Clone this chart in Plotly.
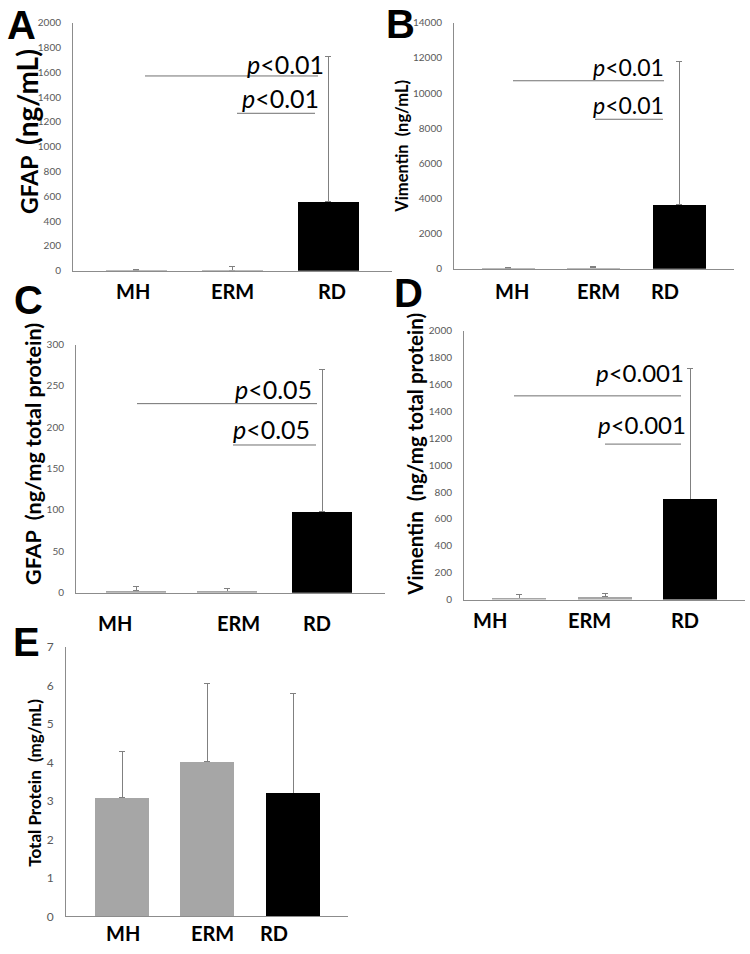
import plotly.graph_objects as go

# ---------------- data ----------------
categories = ["MH", "ERM", "RD"]

gfap_mean = [5, 5, 560]
gfap_sd = [5, 27, 1170]
gfap_sig = [1571, 1270]
gfap_p = ["0.01", "0.01"]

vim_mean = [20, 50, 3640]
vim_sd = [75, 80, 8160]
vim_sig = [10700, 8510]
vim_p = ["0.01", "0.01"]

gfap_tp_mean = [3, 2, 98]
gfap_tp_sd = [4, 2.5, 172]
gfap_tp_sig = [228.6, 178.6]
gfap_tp_p = ["0.05", "0.05"]

vim_tp_mean = [10, 20, 747]
vim_tp_sd = [25, 25, 975]
vim_tp_sig = [1516, 1157]
vim_tp_p = ["0.001", "0.001"]

tp_mean = [3.09, 4.01, 3.20]
tp_sd = [1.18, 2.03, 2.60]

bar_colors = ["#a6a6a6", "#a6a6a6", "#000000"]

W, H = 750, 954
FONT = "Lato"

def fx(px):
    return px / W

def fy(py):
    return 1 - py / H

# ---------------- layout of the panels (pixels) ----------------
panels = [
    dict(letter="A", letter_xy=(21, 17), mean=gfap_mean, sd=gfap_sd, ymax=2000, dtick=200,
         box=(73, 392, 15, 267), centers=[136, 232, 328], bw=61,
         lab_x=[133, 232, 332], lab_off=21,
         title="GFAP  <span style='font-size:28px'>(ng/mL)</span>", title_size=23, title_xy=(27, 126),
         sig=gfap_sig, p=gfap_p, sig_x=[(145, 318), (237, 315)],
         p_xy=[(326, 57), (321, 91)], p_size=25, tick_size=10),
    dict(letter="B", letter_xy=(400, 16), mean=vim_mean, sd=vim_sd, ymax=14000, dtick=2000,
         box=(454, 734, 15, 265), centers=[508, 593, 679], bw=53,
         lab_x=[512, 598, 665], lab_off=23,
         title="Vimentin  (ng/mL)", title_size=16.5, title_xy=(402, 141),
         sig=vim_sig, p=vim_p, sig_x=[(513, 664), (595, 663)],
         p_xy=[(666, 60), (666, 99)], p_size=23, tick_size=10),
    dict(letter="C", letter_xy=(28, 297), mean=gfap_tp_mean, sd=gfap_tp_sd, ymax=300, dtick=50,
         box=(76, 385, 342, 594), centers=[136, 227, 322], bw=60,
         lab_x=[115, 238, 317], lab_off=31,
         title="GFAP  (ng/mg total protein)", title_size=21.5, title_xy=(33, 453),
         sig=gfap_tp_sig, p=gfap_tp_p, sig_x=[(137, 317), (233, 316)],
         p_xy=[(314, 387), (312, 428)], p_size=25, tick_size=10),
    dict(letter="D", letter_xy=(408, 290), mean=vim_tp_mean, sd=vim_tp_sd, ymax=2000, dtick=200,
         box=(464, 745, 328, 601), centers=[519, 605, 690], bw=54,
         lab_x=[490, 589, 685], lab_off=21,
         title="Vimentin  (ng/mg total protein)", title_size=20.5, title_xy=(415, 454),
         sig=vim_tp_sig, p=vim_tp_p, sig_x=[(514, 681), (605, 681)],
         p_xy=[(686, 370), (688, 423)], p_size=24, tick_size=10),
    dict(letter="E", letter_xy=(26, 644), mean=tp_mean, sd=tp_sd, ymax=7, dtick=1,
         box=(66, 348, 649, 923), centers=[122, 207, 293], bw=54,
         lab_x=[123, 212, 274], lab_off=17,
         title="Total Protein  (mg/mL)", title_size=17, title_xy=(35, 787),
         sig=None, p=None, sig_x=None, p_xy=None, p_size=24, tick_size=12),
]

fig = go.Figure()
annotations = []
shapes = []
axis_color = "#8c8c8c"

for i, P in enumerate(panels, start=1):
    x0, x1, ytop, yzero = P["box"]
    xa = "x" if i == 1 else f"x{i}"
    ya = "y" if i == 1 else f"y{i}"
    xs = [c - x0 for c in P["centers"]]
    # transparent bars carrying the (upper) error bars, drawn first
    fig.add_trace(go.Bar(
        x=xs, y=P["mean"], width=P["bw"],
        marker=dict(color="rgba(0,0,0,0)", line=dict(width=0)),
        error_y=dict(type="data", array=P["sd"], arrayminus=[0, 0, 0], symmetric=False,
                     color="#808080", thickness=1, width=3),
        xaxis=xa, yaxis=ya, showlegend=False, hoverinfo="skip",
    ))
    # visible bars on top (hide the lower cap)
    fig.add_trace(go.Bar(
        x=xs, y=P["mean"], width=P["bw"],
        marker=dict(color=bar_colors, line=dict(width=0)),
        xaxis=xa, yaxis=ya, showlegend=False, hoverinfo="skip",
    ))
    xkey = "xaxis" if i == 1 else f"xaxis{i}"
    ykey = "yaxis" if i == 1 else f"yaxis{i}"
    fig.update_layout(**{
        xkey: dict(domain=[fx(x0), fx(x1)], range=[0, x1 - x0], anchor=ya,
                   showline=True, linecolor=axis_color, linewidth=1, showgrid=False,
                   zeroline=False, ticks="", showticklabels=False, fixedrange=True),
        ykey: dict(domain=[fy(yzero), fy(ytop)], range=[0, P["ymax"]], anchor=xa,
                   dtick=P["dtick"], tick0=0, tickformat="d", showline=True, linecolor=axis_color,
                   linewidth=1, showgrid=False, zeroline=False, ticks="",
                   ticklabelstandoff=9,
                   tickfont=dict(family=FONT, size=P["tick_size"], color="#595959"),
                   fixedrange=True),
    })
    for lx, cat in zip(P["lab_x"], categories):
        annotations.append(dict(x=fx(lx), y=fy(yzero + P["lab_off"]), xref="paper", yref="paper",
                                text=cat, showarrow=False, xanchor="center", yanchor="middle",
                                font=dict(family=FONT, size=20, color="#000000", weight="bold")))
    lx_, ly_ = P["letter_xy"]
    annotations.append(dict(x=fx(lx_), y=fy(ly_), xref="paper", yref="paper", text=P["letter"],
                            showarrow=False, xanchor="center", yanchor="middle",
                            font=dict(family="Liberation Sans", size=40, color="#000000", weight="bold")))
    tx, ty = P["title_xy"]
    annotations.append(dict(x=fx(tx), y=fy(ty), xref="paper", yref="paper", text=P["title"],
                            textangle=-90, showarrow=False, xanchor="center", yanchor="middle",
                            font=dict(family=FONT, size=P["title_size"], color="#000000", weight="bold")))
    if P["sig"] is not None:
        for (sx0, sx1), lev, pv, (px_, py_) in zip(P["sig_x"], P["sig"], P["p"], P["p_xy"]):
            shapes.append(dict(type="line", xref=xa, yref=ya, x0=sx0 - x0, x1=sx1 - x0,
                               y0=lev, y1=lev, line=dict(color="#707070", width=1)))
            annotations.append(dict(x=fx(px_), y=fy(py_), xref="paper", yref="paper",
                                    text=f"<i>p</i>&lt;{pv}", showarrow=False,
                                    xanchor="right", yanchor="middle",
                                    font=dict(family=FONT, size=P["p_size"], color="#000000")))

fig.update_layout(width=W, height=H, margin=dict(l=0, r=0, t=0, b=0),
                  paper_bgcolor="white", plot_bgcolor="white", barmode="overlay",
                  annotations=annotations, shapes=shapes, bargap=0)

fig.write_html("out.html", config={"displayModeBar": False},
               post_script="document.body.style.margin='0';document.body.style.overflow='hidden';")
